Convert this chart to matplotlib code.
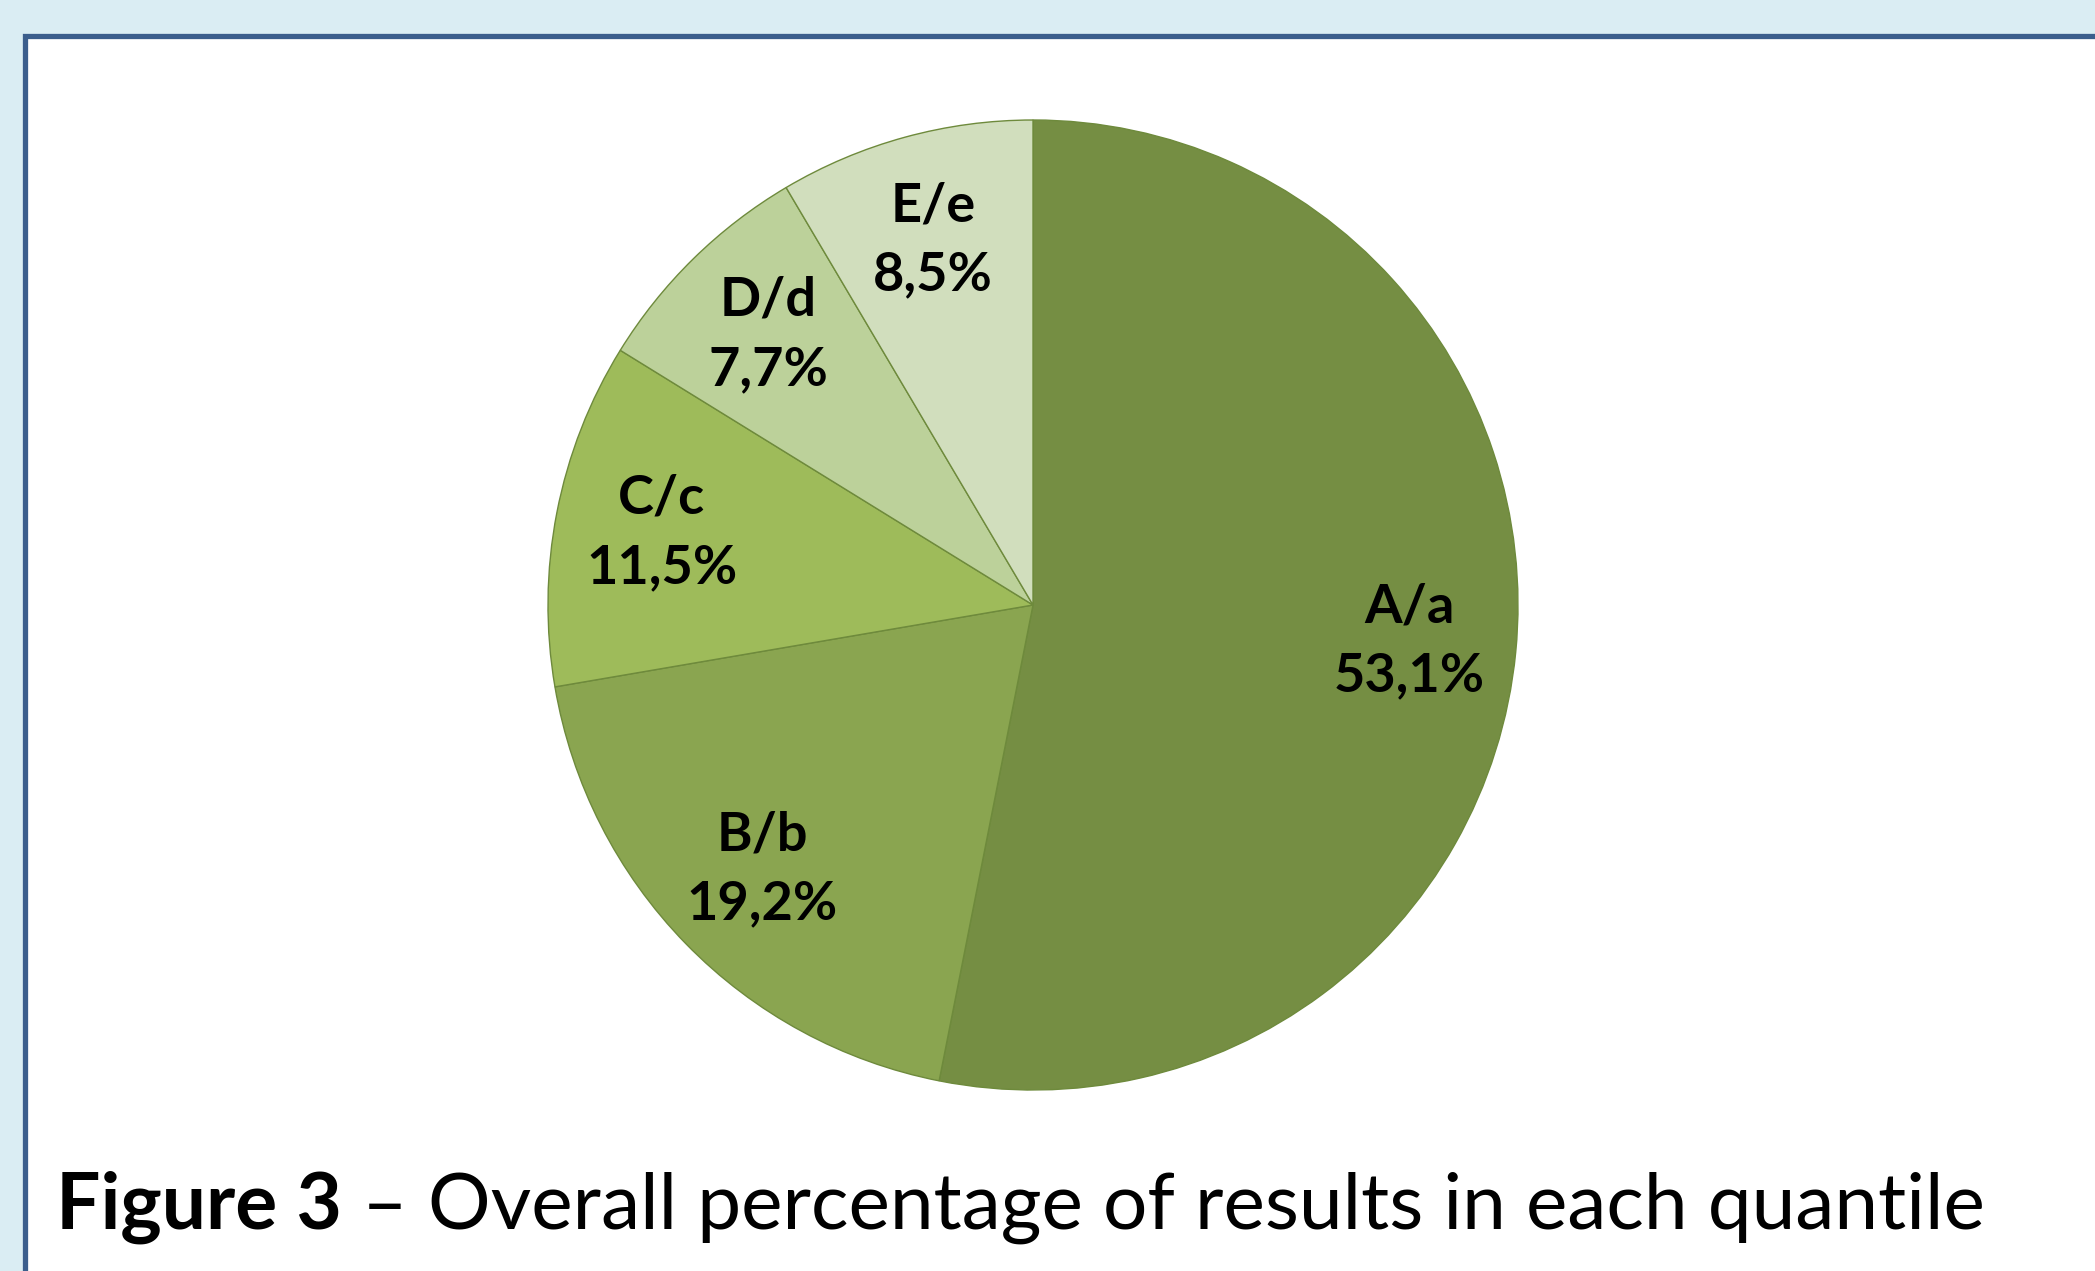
import matplotlib
matplotlib.use("Agg")
import matplotlib.pyplot as plt
from matplotlib.patches import Rectangle

categories = ["A/a", "B/b", "C/c", "D/d", "E/e"]
values = [53.1, 19.2, 11.5, 7.7, 8.5]
pct_labels = ["53,1%", "19,2%", "11,5%", "7,7%", "8,5%"]
colors = ["#758E43", "#8AA550", "#9EBB5A", "#BCD19A", "#D1DEBD"]

W, H = 2095, 1271
fig = plt.figure(figsize=(W / 100, H / 100), dpi=100)
fig.patch.set_facecolor("#DAEDF3")

# white panel with blue border
fig.patches.append(Rectangle((24.5 / W, -0.05), 1.2, 1 - 36 / H + 0.05,
                             transform=fig.transFigure, facecolor="white",
                             edgecolor="#3B5E8C", linewidth=3.8, zorder=-5))

cx, cy, r = 1033, 605, 485
ax = fig.add_axes([(cx - r) / W, (H - cy - r) / H, 2 * r / W, 2 * r / H])
ax.set_zorder(2)
labels = [f"{c}\n{p}" for c, p in zip(categories, pct_labels)]
wedges, texts = ax.pie(values, colors=colors, startangle=90, counterclock=False,
                       labels=labels, labeldistance=0.78, radius=1,
                       wedgeprops=dict(edgecolor="#6E8A3C", linewidth=1.0))
for t in texts:
    t.set_ha("center")
    t.set_va("center")
    t.set_fontfamily("Lato")
    t.set_fontweight("bold")
    t.set_fontsize(39)
    t.set_linespacing(1.5)
ax.set_xlim(-1, 1)
ax.set_ylim(-1, 1)
ax.set_aspect("equal")
ax.axis("off")

# caption
fs = 56.5
t1 = fig.text(56 / W, (H - 1229) / H, "Figure 3", fontfamily="Lato", fontweight="bold",
              fontsize=fs, ha="left", va="baseline", zorder=3)
fig.canvas.draw()
bb = t1.get_window_extent()
fig.text(bb.x1 / W, (H - 1229) / H, " \u2013 Overall percentage of results in each quantile",
         fontfamily="Lato", fontsize=fs, ha="left", va="baseline", zorder=3)

fig.savefig("out.png", dpi=100, facecolor=fig.get_facecolor())
